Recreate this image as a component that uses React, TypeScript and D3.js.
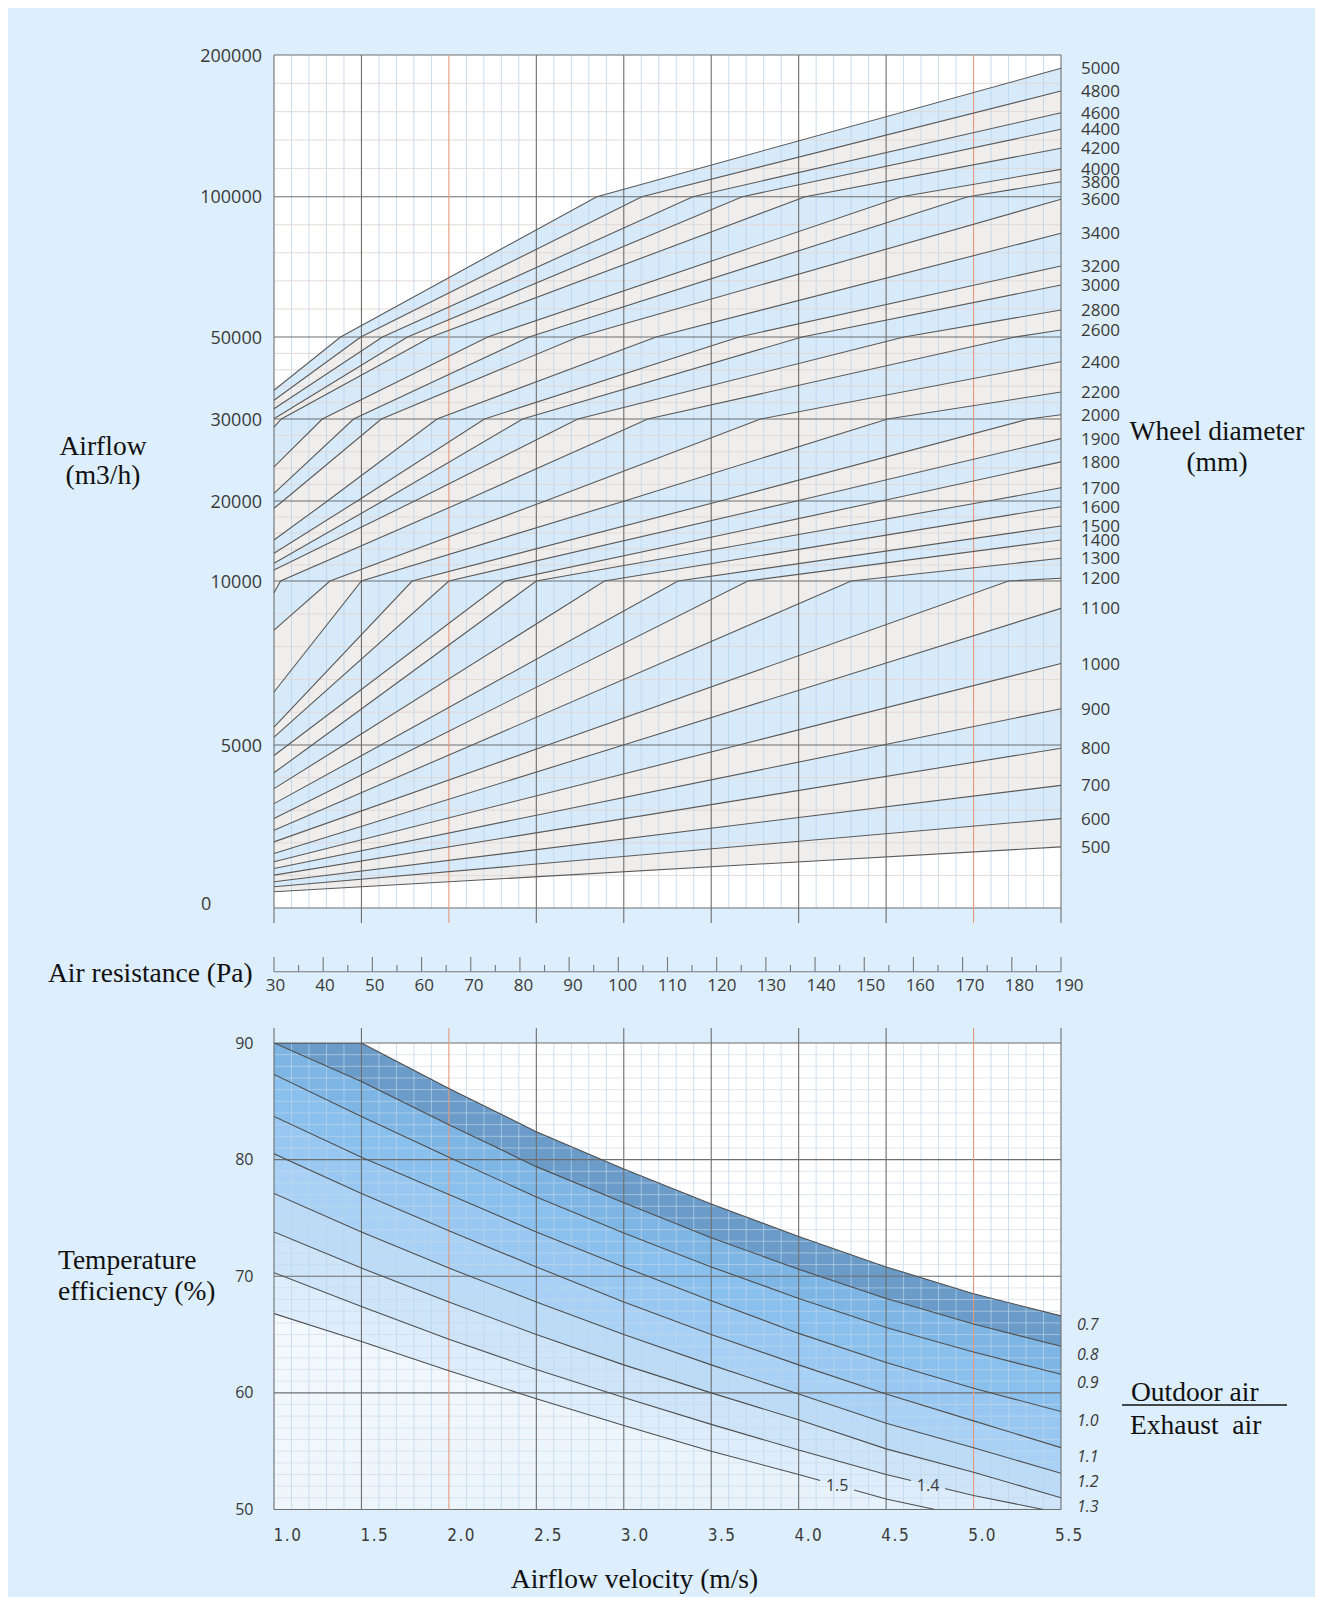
import React from 'react';
import * as d3 from 'd3';

// ---------------- data ----------------
const wheelDiameters = [5000, 4800, 4600, 4400, 4200, 4000, 3800, 3600, 3400, 3200, 3000, 2800, 2600, 2400, 2200, 2000, 1900, 1800, 1700, 1600, 1500, 1400, 1300, 1200, 1100, 1000, 900, 800, 700, 600, 500];
// airflow (m3/h) read at the left edge (1.0 m/s / 30 Pa)
const airflowAtLow = [37010, 34560, 32520, 30070, 29020, 24160, 20930, 19090, 15125, 13460, 12210, 11375, 9642, 8502, 6615, 5544, 5239, 4679, 4150, 3661, 3202, 2743, 2385, 2028, 1673, 1416, 1214, 1009, 804, 651, 498];
// airflow (m3/h) read at the right edge (5.5 m/s / 190 Pa)
const airflowAtHigh = [190600, 174600, 159300, 147600, 134200, 119300, 110600, 99070, 86960, 75300, 68530, 59620, 52500, 43950, 36590, 31050, 27610, 24770, 21610, 19290, 16880, 15130, 12840, 10340, 9165, 7483, 6107, 4902, 3761, 2743, 1875];
// velocity (m/s) where a line meets the 10000 m3/h line (read from the kinks), null where not read
const velocityAt10000 = [null, null, null, null, null, null, null, null, null, null, null, null, null, 1.32, 1.50, 1.79, 2.00, 2.32, 2.50, 2.89, 3.31, 3.71, 4.30, 5.20, null, null, null, null, null, null, null];

const airflowTicks = [0, 5000, 10000, 20000, 30000, 50000, 100000, 200000];
const airflowMinorTicks = [1000, 2000, 3000, 4000, 6000, 7000, 8000, 9000, 12000, 14000, 16000, 18000, 22000, 24000, 26000, 28000, 34000, 38000, 42000, 46000, 60000, 70000, 80000, 90000, 120000, 140000, 160000, 180000];
const velocityTicks = [1.0, 1.5, 2.0, 2.5, 3.0, 3.5, 4.0, 4.5, 5.0, 5.5];
const velocityLabels = ['1.0', '1.5', '2.0', '2.5', '3.0', '3.5', '4.0', '4.5', '5.0', '5.5'];
const orangeVelocities = [2.0, 5.0];
const resistanceTicks = [30, 40, 50, 60, 70, 80, 90, 100, 110, 120, 130, 140, 150, 160, 170, 180, 190];
const resistanceMinorTicks = [35, 45, 55, 65, 75, 85, 95, 105, 115, 125, 135, 145, 155, 165, 175, 185];
const efficiencyTicks = [50, 60, 70, 80, 90];

const ratioLabels = ['0.7', '0.8', '0.9', '1.0', '1.1', '1.2', '1.3', '1.4', '1.5'];
const ratio07: [number, number][] = [[1.0, 90], [1.5, 90], [2.0, 86.1], [2.5, 82.4], [3.0, 79.2], [3.5, 76.2], [4.0, 73.4], [4.5, 70.8], [5.0, 68.5], [5.5, 66.6]];
const ratio08: [number, number][] = [[1.0, 90], [1.5, 86.7], [2.0, 83.0], [2.5, 79.4], [3.0, 76.3], [3.5, 73.3], [4.0, 70.6], [4.5, 68.1], [5.0, 65.9], [5.5, 64.0]];
const ratio09: [number, number][] = [[1.0, 87.3], [1.5, 83.7], [2.0, 80.2], [2.5, 76.8], [3.0, 73.7], [3.5, 70.8], [4.0, 68.1], [4.5, 65.6], [5.0, 63.5], [5.5, 61.6]];
const ratio10: [number, number][] = [[1.0, 83.7], [1.5, 80.2], [2.0, 77.0], [2.5, 73.8], [3.0, 70.8], [3.5, 67.9], [4.0, 65.1], [4.5, 62.6], [5.0, 60.4], [5.5, 58.4]];
const ratio11: [number, number][] = [[1.0, 80.5], [1.5, 77.1], [2.0, 73.9], [2.5, 70.8], [3.0, 67.8], [3.5, 65.0], [4.0, 62.4], [4.5, 59.9], [5.0, 57.6], [5.5, 55.3]];
const ratio12: [number, number][] = [[1.0, 77.1], [1.5, 73.8], [2.0, 70.7], [2.5, 67.8], [3.0, 65.0], [3.5, 62.4], [4.0, 59.9], [4.5, 57.4], [5.0, 55.3], [5.5, 53.1]];
const ratio13: [number, number][] = [[1.0, 73.8], [1.5, 70.7], [2.0, 67.8], [2.5, 65.0], [3.0, 62.4], [3.5, 60.0], [4.0, 57.7], [4.5, 55.2], [5.0, 53.2], [5.5, 51.0]];
const ratio14: [number, number][] = [[1.0, 70.3], [1.5, 67.4], [2.0, 64.6], [2.5, 62.0], [3.0, 59.6], [3.5, 57.3], [4.0, 55.1], [4.5, 53.0], [5.0, 51.2], [5.4, 50]];
const ratio15: [number, number][] = [[1.0, 66.8], [1.5, 64.4], [2.0, 61.9], [2.5, 59.5], [3.0, 57.2], [3.5, 55.0], [4.0, 53.0], [4.5, 50.9], [4.78, 50]];
const ratioCurves = [ratio07, ratio08, ratio09, ratio10, ratio11, ratio12, ratio13, ratio14, ratio15];
// inline labels (ratio index, velocity)
const inlineLabels: [number, number][] = [[8, 4.22], [7, 4.74]];

const bandColors = ['#6b9bc8', '#7db5e5', '#8ac0ee', '#98c8f2', '#a8d1f5', '#bbdbf7', '#cde4f9', '#deedfb', 'url(#lowGrad)'];

const SANS = "'Open Sans', 'Noto Sans', sans-serif";
const SERIF = "'Liberation Serif', 'Times New Roman', serif";

export default function App() {
  const X0 = 274, X1 = 1061;
  const xV = d3.scaleLinear().domain([1, 5.5]).range([X0, X1]);
  const xPa = d3.scaleLinear().domain([30, 190]).range([X0, X1]);
  const xPaLabel = d3.scaleLinear().domain([30, 190]).range([275.5, 1069]);
  const xVLabel = d3.scaleLinear().domain([1, 5.5]).range([288, 1069.4]);
  const yAir = d3.scaleLinear().domain(airflowTicks).range([908, 745, 581, 501, 419, 337, 196.7, 55]);
  const yEff = d3.scaleLinear().domain([50, 90]).range([1509.5, 1043]);
  const TY0 = yAir(200000), TY1 = yAir(0);
  const BY0 = yEff(90), BY1 = yEff(50);

  // straight segments in data space, rendered through the piecewise airflow scale
  const addSegment = (pts: [number, number][], p1: [number, number]) => {
    const p0 = pts[pts.length - 1];
    const lo = Math.min(p0[1], p1[1]), hi = Math.max(p0[1], p1[1]);
    airflowTicks.filter(k => k > lo && k < hi).forEach(k => {
      pts.push([p0[0] + (k - p0[1]) / (p1[1] - p0[1]) * (p1[0] - p0[0]), k]);
    });
    pts.push(p1);
  };
  const airLine = (a: number, b: number, v10: number | null): [number, number][] => {
    const pts: [number, number][] = [[1, a]];
    if (v10 !== null) addSegment(pts, [v10, 10000]);
    addSegment(pts, [5.5, b]);
    return pts;
  };
  const airPath = d3.line<[number, number]>().x(d => xV(d[0])).y(d => yAir(d[1]));
  const effPath = d3.line<[number, number]>().x(d => xV(d[0])).y(d => yEff(d[1]));

  const topLines = wheelDiameters.map((_, i) => airLine(airflowAtLow[i], airflowAtHigh[i], velocityAt10000[i]));
  const minorV = xV.ticks(45).filter(v => !velocityTicks.some(t => Math.abs(t - v) < 1e-6));
  const minorEff = yEff.ticks(40).filter(v => !efficiencyTicks.includes(v));

  const interpEff = (c: [number, number][], v: number) => {
    for (let i = 0; i < c.length - 1; i++) {
      if (v >= c[i][0] && v <= c[i + 1][0]) {
        const t = (v - c[i][0]) / (c[i + 1][0] - c[i][0]);
        return c[i][1] + t * (c[i + 1][1] - c[i][1]);
      }
    }
    return c[c.length - 1][1];
  };

  return (
    <svg width={1319} height={1597} style={{ position: 'absolute', left: 0, top: 0, display: 'block' }}>
      <defs>
        <linearGradient id="lowGrad" x1="0" y1="0" x2="1" y2="1">
          <stop offset="0" stopColor="#f3f9fd" />
          <stop offset="0.6" stopColor="#edf5fc" />
          <stop offset="1" stopColor="#e4f0fb" />
        </linearGradient>
        <mask id="gapMask" maskUnits="userSpaceOnUse" x={0} y={0} width={1319} height={1597}>
          <rect x={0} y={0} width={1319} height={1597} fill="white" />
          {inlineLabels.map(([ri, v], i) => (
            <rect key={i} x={xV(v) - 17} y={yEff(interpEff(ratioCurves[ri], v)) - 10} width={34} height={20} fill="black" />
          ))}
        </mask>
        <clipPath id="botClip"><rect x={X0} y={BY0} width={X1 - X0} height={BY1 - BY0} /></clipPath>
      </defs>
      <rect x={0} y={0} width={1319} height={1597} fill="#ffffff" />
      <rect x={8} y={8} width={1307} height={1589} fill="#ddeefc" />

      {/* ============ TOP CHART ============ */}
      <rect x={X0} y={TY0} width={X1 - X0} height={TY1 - TY0} fill="#ffffff" />
      {topLines.map((pts, i) => (
        <path key={'band' + i}
          d={airPath(pts) + `L${X1},${TY1}L${X0},${TY1}Z`}
          fill={i === topLines.length - 1 ? '#ffffff' : (i % 2 === 0 ? '#d7eafa' : '#f0eeec')} />
      ))}
      {/* minor grid */}
      {minorV.map((v, i) => (
        <line key={'tmv' + i} x1={xV(v)} x2={xV(v)} y1={TY0} y2={TY1} stroke="#b9d4ec" strokeWidth={1} opacity={0.8} />
      ))}
      {airflowMinorTicks.map((t, i) => (
        <line key={'tmh' + i} x1={X0} x2={X1} y1={yAir(t)} y2={yAir(t)} stroke="#e2d6d2" strokeWidth={1} opacity={0.9} />
      ))}
      {/* major grid */}
      {airflowTicks.map((t, i) => (
        <line key={'tMh' + i} x1={X0} x2={X1} y1={yAir(t)} y2={yAir(t)} stroke="#6e6e6e" strokeWidth={1.1} />
      ))}
      {velocityTicks.map((v, i) => (
        <line key={'tMv' + i} x1={xV(v)} x2={xV(v)} y1={TY0} y2={TY1 + 15}
          stroke={orangeVelocities.includes(v) ? '#e39a7e' : '#6e6e6e'} strokeWidth={1.1} />
      ))}
      {/* diameter lines */}
      {topLines.map((pts, i) => (
        <path key={'dl' + i} d={airPath(pts) || ''} fill="none" stroke="#5a5a5a" strokeWidth={1.1} />
      ))}
      {/* left labels */}
      {airflowTicks.map((t, i) => (
        t === 0
          ? <text key={'al' + i} x={201} y={yAir(t) + 2} fontFamily={SANS} fontSize={18} fill="#3a3a3a">0</text>
          : <text key={'al' + i} x={262} y={yAir(t) + 6.5} textAnchor="end" fontFamily={SANS} fontSize={18} fill="#3a3a3a">{String(t)}</text>
      ))}
      {/* right labels */}
      {wheelDiameters.map((dm, i) => (
        <text key={'dlab' + i} x={1081} y={yAir(airflowAtHigh[i]) + 6} fontFamily={SANS} fontSize={17} fill="#3a3a3a">{String(dm)}</text>
      ))}
      <text x={103} y={455} textAnchor="middle" fontFamily={SERIF} fontSize={27.5} fill="#111">Airflow</text>
      <text x={103} y={484} textAnchor="middle" fontFamily={SERIF} fontSize={27.5} fill="#111">(m3/h)</text>
      <text x={1217} y={440} textAnchor="middle" fontFamily={SERIF} fontSize={27.5} fill="#111">Wheel diameter</text>
      <text x={1217} y={471} textAnchor="middle" fontFamily={SERIF} fontSize={27.5} fill="#111">(mm)</text>

      {/* ============ AIR RESISTANCE AXIS ============ */}
      <line x1={X0} x2={X1} y1={971.7} y2={971.7} stroke="#777" strokeWidth={1.1} />
      {resistanceTicks.map((t, i) => (
        <line key={'rt' + i} x1={xPa(t)} x2={xPa(t)} y1={971.7} y2={957} stroke="#777" strokeWidth={1.1} />
      ))}
      {resistanceMinorTicks.map((t, i) => (
        <line key={'rm' + i} x1={xPa(t)} x2={xPa(t)} y1={971.7} y2={965} stroke="#777" strokeWidth={1.1} />
      ))}
      {resistanceTicks.map((t, i) => (
        <text key={'rl' + i} x={xPaLabel(t)} y={991} textAnchor="middle" fontFamily={SANS} fontSize={17} fill="#3a3a3a">{String(t)}</text>
      ))}
      <text x={48} y={982} fontFamily={SERIF} fontSize={27.5} fill="#111">Air resistance (Pa)</text>

      {/* ============ BOTTOM CHART ============ */}
      <rect x={X0} y={BY0} width={X1 - X0} height={BY1 - BY0} fill="#ffffff" />
      <g clipPath="url(#botClip)">
        {ratioCurves.map((c, i) => (
          <path key={'eb' + i}
            d={effPath(c) + `L${xV(c[c.length - 1][0])},${BY1 + 2}L${X0},${BY1 + 2}Z`}
            fill={bandColors[i]} />
        ))}
      </g>
      {minorV.map((v, i) => (
        <line key={'bmv' + i} x1={xV(v)} x2={xV(v)} y1={BY0} y2={BY1} stroke="#b9d4ec" strokeWidth={1} opacity={0.7} />
      ))}
      {minorEff.map((t, i) => (
        <line key={'bmh' + i} x1={X0} x2={X1} y1={yEff(t)} y2={yEff(t)} stroke="#c9d9e6" strokeWidth={1} opacity={0.6} />
      ))}
      {efficiencyTicks.map((t, i) => (
        <line key={'bMh' + i} x1={X0} x2={X1} y1={yEff(t)} y2={yEff(t)} stroke="#6e6e6e" strokeWidth={1.1} />
      ))}
      {velocityTicks.map((v, i) => (
        <line key={'bMv' + i} x1={xV(v)} x2={xV(v)} y1={BY0 - 15} y2={BY1}
          stroke={orangeVelocities.includes(v) ? '#e39a7e' : '#6e6e6e'} strokeWidth={1.1} />
      ))}
      <g clipPath="url(#botClip)">
        {ratioCurves.map((c, i) => (
          <path key={'ec' + i} d={effPath(c) || ''} fill="none" stroke="#4f4f4f" strokeWidth={1.1}
            mask={i >= 7 ? 'url(#gapMask)' : undefined} />
        ))}
      </g>
      {/* ratio labels at right */}
      {ratioCurves.slice(0, 7).map((c, i) => (
        <text key={'rlab' + i} x={1077} y={yEff(c[c.length - 1][1]) + 14} fontFamily={SANS} fontStyle="italic" fontSize={16} fill="#3a3a3a">{ratioLabels[i]}</text>
      ))}
      {inlineLabels.map(([ri, v], i) => (
        <text key={'il' + i} x={xV(v)} y={yEff(interpEff(ratioCurves[ri], v)) + 6} textAnchor="middle" fontFamily={SANS} fontSize={16} fill="#3a3a3a">{ratioLabels[ri]}</text>
      ))}
      {efficiencyTicks.map((t, i) => (
        <text key={'el' + i} x={253.5} y={yEff(t) + 5.5} textAnchor="end" fontFamily={SANS} fontSize={16} fill="#3a3a3a">{String(t)}</text>
      ))}
      {velocityTicks.map((v, i) => (
        <text key={'vl' + i} x={xVLabel(v)} y={1541} textAnchor="middle" fontFamily="'Liberation Sans Narrow', 'DejaVu Sans Condensed', sans-serif" fontSize={17} fill="#3a3a3a" letterSpacing={1.5}>{velocityLabels[i]}</text>
      ))}
      <text x={58} y={1269} fontFamily={SERIF} fontSize={27.5} fill="#111">Temperature</text>
      <text x={58} y={1300} fontFamily={SERIF} fontSize={27.5} fill="#111">efficiency (%)</text>
      <text x={1131} y={1401} fontFamily={SERIF} fontSize={27.5} fill="#111">Outdoor air</text>
      <line x1={1122} x2={1287} y1={1405} y2={1405} stroke="#111" strokeWidth={1.6} />
      <text x={1130} y={1434} fontFamily={SERIF} fontSize={27.5} fill="#111" style={{ whiteSpace: 'pre' }}>{'Exhaust  air'}</text>
      <text x={634.5} y={1588} textAnchor="middle" fontFamily={SERIF} fontSize={27.5} fill="#111">Airflow velocity (m/s)</text>
    </svg>
  );
}
